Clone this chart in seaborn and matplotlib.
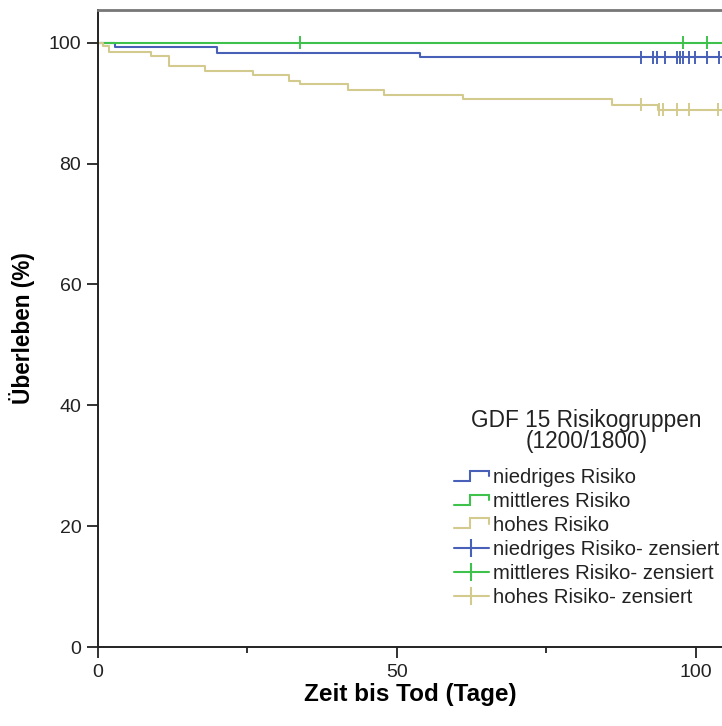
import numpy as np
import pandas as pd
import matplotlib
matplotlib.use("Agg")
import matplotlib.pyplot as plt
import seaborn as sns
from matplotlib.lines import Line2D
from matplotlib.legend_handler import HandlerBase

# ---------------- data ----------------
groups = ["niedriges Risiko", "mittleres Risiko", "hohes Risiko"]
colors = ["#4860b8", "#3ec24c", "#d3cb8e"]

low_event_times = [2.8, 19.9, 53.8]
low_surv = [99.3, 98.3, 97.6]
low_cens_times = [90.9, 92.8, 93.6, 94.8, 96.9, 97.4, 97.9, 98.9, 99.9, 101.9, 103.9]

mid_event_times = []
mid_surv = []
mid_cens_times = [33.8, 97.9, 101.9]

high_event_times = [0.9, 1.8, 8.9, 11.9, 17.9, 26.0, 32.0, 33.8, 41.9, 47.9, 61.0, 86.0, 93.7]
high_surv = [99.4, 98.5, 97.8, 96.2, 95.3, 94.6, 93.7, 93.1, 92.2, 91.4, 90.7, 89.7, 88.9]
high_cens_times = [90.8, 93.8, 94.6, 96.8, 98.8, 103.8]

followup_end = 106

x_ticks = [0, 50, 100]
x_minor_ticks = [25, 75]
y_ticks = [0, 20, 40, 60, 80, 100]

legend_title = "GDF 15 Risikogruppen\n(1200/1800)"
xlabel = "Zeit bis Tod (Tage)"
ylabel = "Überleben (%)"

# ---------------- build tables ----------------
event_data = {
    groups[0]: (low_event_times, low_surv, low_cens_times),
    groups[1]: (mid_event_times, mid_surv, mid_cens_times),
    groups[2]: (high_event_times, high_surv, high_cens_times),
}


def surv_at(t, times, surv):
    s = 100.0
    for ti, si in zip(times, surv):
        if ti <= t:
            s = si
    return s


line_rows = []
cens_rows = []
for g, (et, sv, ct) in event_data.items():
    ts = [0.0] + list(et) + [followup_end]
    ss = [100.0] + list(sv) + [sv[-1] if sv else 100.0]
    for t, s in zip(ts, ss):
        line_rows.append({"t": t, "s": s, "Gruppe": g})
    for t in ct:
        cens_rows.append({"t": t, "s": surv_at(t, et, sv), "Gruppe": g})

line_df = pd.DataFrame(line_rows)
cens_df = pd.DataFrame(cens_rows)
palette = dict(zip(groups, colors))

# ---------------- plot ----------------
sns.set_style("ticks")
plt.rcParams["font.family"] = ["Liberation Sans", "DejaVu Sans"]

fig = plt.figure(figsize=(7.22, 7.26), dpi=100)
ax = fig.add_axes([98 / 722, 1 - 647 / 726, 1 - 98 / 722, (647 - 10) / 726])

sns.lineplot(data=line_df, x="t", y="s", hue="Gruppe", palette=palette,
             estimator=None, drawstyle="steps-post", linewidth=1.5,
             legend=False, ax=ax)
sns.scatterplot(data=cens_df, x="t", y="s", hue="Gruppe", palette=palette,
                marker="|", s=90, linewidth=1.4, legend=False, ax=ax, zorder=3)

ax.set_xlim(0, 104.4)
ax.set_ylim(0, 105.4)
ax.set_xticks(x_ticks)
ax.set_xticks(x_minor_ticks, minor=True)
ax.set_yticks(y_ticks)
ax.tick_params(axis="both", which="major", length=8, width=1.3, color="#222222",
               labelsize=14, labelcolor="#222222", pad=4)
ax.tick_params(axis="x", which="minor", length=4, width=1.3, color="#222222")

for side in ["left", "bottom"]:
    ax.spines[side].set_color("#222222")
    ax.spines[side].set_linewidth(1.4)
ax.spines["right"].set_visible(False)
ax.spines["top"].set_visible(True)
ax.spines["top"].set_color("#777777")
ax.spines["top"].set_linewidth(2)

ax.set_xlabel(xlabel, fontsize=17.5, fontweight="bold", labelpad=1.5, color="#000000")
ax.set_ylabel(ylabel, fontsize=16.3, fontweight="bold", labelpad=10, color="#000000")


# ---------------- legend ----------------
class StepHandler(HandlerBase):
    def create_artists(self, legend, orig_handle, xdescent, ydescent, width,
                       height, fontsize, trans):
        x0, y0 = -xdescent, -ydescent
        xm = x0 + width * 0.45
        xs = [x0, xm, xm, x0 + width, x0 + width]
        ys = [y0 + height * 0.2, y0 + height * 0.2, y0 + height * 0.9,
              y0 + height * 0.9, y0 + height * 0.5]
        ln = Line2D(xs, ys, color=orig_handle.get_color(), linewidth=1.5,
                    solid_joinstyle="miter")
        ln.set_transform(trans)
        return [ln]


handles = []
labels = []
hmap = {}
for g, c in zip(groups, colors):
    h = Line2D([], [], color=c, linewidth=1.5)
    handles.append(h)
    labels.append(g)
    hmap[h] = StepHandler()
for g, c in zip(groups, colors):
    h = Line2D([], [], color=c, linewidth=1.5, marker="|", markersize=13,
               markeredgewidth=1.5)
    handles.append(h)
    labels.append(g + "- zensiert")

leg = ax.legend(handles, labels, handler_map=hmap, loc="upper left",
                bbox_to_anchor=(454 / 722, 1 - 409 / 726),
                bbox_transform=fig.transFigure, frameon=False,
                borderpad=0, borderaxespad=0, fontsize=14.6,
                title=legend_title, title_fontsize=16.3,
                handlelength=1.72, handletextpad=0.2, labelspacing=0.24,
                numpoints=1)
for t in leg.get_texts():
    t.set_color("#222222")
ttl = leg.get_title()
ttl.set_color("#222222")
ttl.set_linespacing(0.9)
ttl.set_multialignment("center")
leg._legend_box.sep = 11

fig.savefig("out.png", dpi=100)
